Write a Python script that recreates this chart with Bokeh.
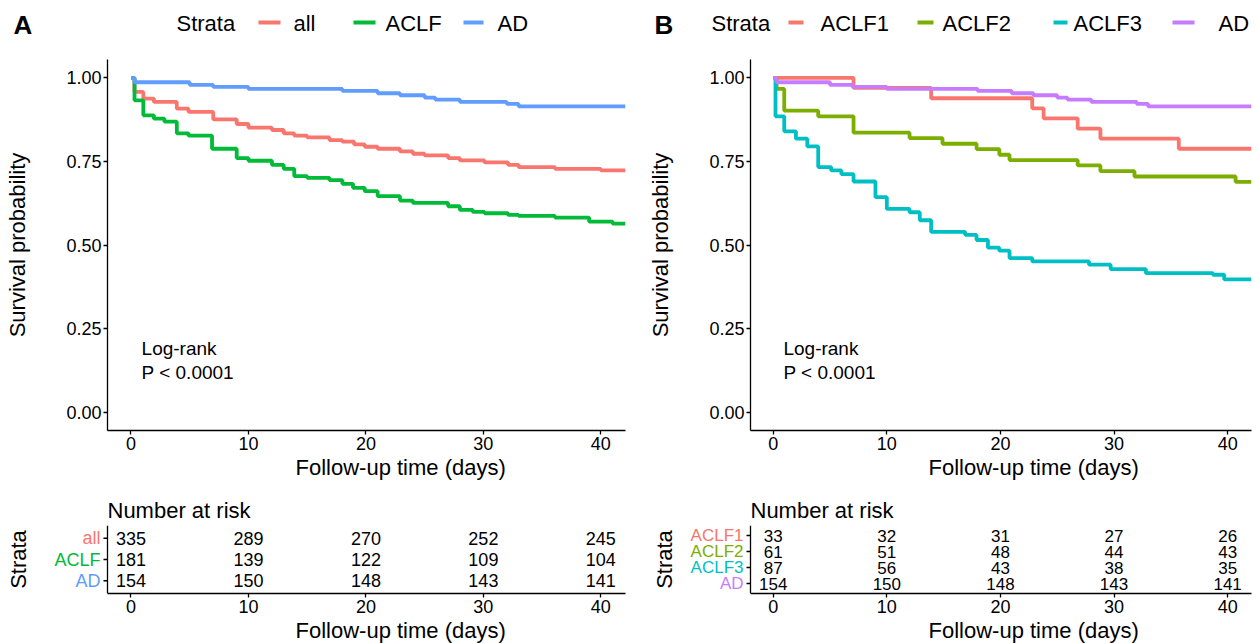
from bokeh.plotting import figure
from bokeh.models import Range1d, FixedTicker, Label, NumeralTickFormatter, Span, Title
from bokeh.layouts import row, column
from bokeh.embed import file_html
from bokeh.resources import INLINE
from bokeh.core.properties import value

FONT = "Liberation Sans"

# ---------------- data ----------------
strata_a = ["all", "ACLF", "AD"]
colors_a = ["#F8766D", "#00BA38", "#619CFF"]
strata_b = ["ACLF1", "ACLF2", "ACLF3", "AD"]
colors_b = ["#F8766D", "#7CAE00", "#00BFC4", "#C77CFF"]

all_time = [0, 0.3, 1.05, 1.95, 3.9, 4.9, 7.0, 9.0, 10.0, 12.0, 13.0, 13.9, 15.0, 16.9, 18.0, 19.0,
            19.9, 21.0, 22.9, 24.0, 25.0, 27.0, 28.0, 30.1, 32.1, 33.0, 36.1, 40.0, 42.1]
all_surv = [1.0, 0.958, 0.938, 0.928, 0.908, 0.898, 0.876, 0.862, 0.851, 0.844, 0.834, 0.827, 0.822,
            0.814, 0.809, 0.801, 0.794, 0.788, 0.780, 0.773, 0.768, 0.760, 0.753, 0.747, 0.740,
            0.733, 0.728, 0.723, 0.723]

aclf_time = [0, 0.3, 1.05, 1.95, 2.85, 3.9, 4.9, 6.9, 9.0, 10.0, 12.0, 13.0, 13.9, 15.0, 16.9, 18.0,
             18.9, 19.9, 21.0, 22.9, 24.0, 27.0, 28.0, 29.1, 30.1, 32.1, 33.0, 36.1, 39.0, 41.0, 42.1]
aclf_surv = [1.0, 0.933, 0.888, 0.878, 0.869, 0.834, 0.827, 0.788, 0.760, 0.752, 0.740, 0.728, 0.706,
             0.701, 0.694, 0.683, 0.671, 0.661, 0.646, 0.633, 0.626, 0.616, 0.605, 0.599, 0.595,
             0.590, 0.587, 0.582, 0.570, 0.564, 0.564]

ad_time = [0, 0.3, 5.0, 7.0, 10.0, 18.0, 21.0, 22.9, 25.0, 25.9, 28.0, 32.0, 33.0, 42.1]
ad_surv = [1.0, 0.987, 0.979, 0.973, 0.967, 0.961, 0.954, 0.948, 0.941, 0.935, 0.928, 0.922, 0.915, 0.915]

aclf1_time = [0, 7.07, 13.9, 22.8, 23.8, 26.8, 28.8, 35.7, 42.1]
aclf1_surv = [1.0, 0.970, 0.939, 0.909, 0.879, 0.848, 0.818, 0.788, 0.788]

aclf2_time = [0, 0.3, 0.97, 3.96, 7.07, 12.0, 14.9, 17.9, 19.9, 20.8, 26.8, 28.8, 31.8, 40.7, 42.1]
aclf2_surv = [1.0, 0.967, 0.902, 0.885, 0.836, 0.820, 0.803, 0.787, 0.770, 0.754, 0.738, 0.721,
              0.705, 0.689, 0.689]

aclf3_time = [0, 0.2, 0.97, 2.0, 3.0, 3.96, 5.1, 6.0, 7.07, 9.0, 10.0, 12.0, 12.9, 13.9, 16.9, 17.9,
              18.9, 19.9, 20.8, 22.8, 27.8, 29.7, 32.8, 38.7, 39.7, 42.1]
aclf3_surv = [1.0, 0.885, 0.840, 0.818, 0.795, 0.733, 0.723, 0.712, 0.690, 0.643, 0.608, 0.598, 0.574,
              0.539, 0.530, 0.515, 0.492, 0.483, 0.461, 0.451, 0.441, 0.428, 0.416, 0.411, 0.397, 0.397]

risk_times = [0, 10, 20, 30, 40]
risk_all = [335, 289, 270, 252, 245]
risk_aclf = [181, 139, 122, 109, 104]
risk_ad = [154, 150, 148, 143, 141]
risk_aclf1 = [33, 32, 31, 27, 26]
risk_aclf2 = [61, 51, 48, 44, 43]
risk_aclf3 = [87, 56, 43, 38, 35]

x_ticks = [0, 10, 20, 30, 40]
y_ticks = [0.0, 0.25, 0.50, 0.75, 1.00]
x_title = "Follow-up time (days)"
y_title = "Survival probability"
logrank_text = ["Log-rank", "P < 0.0001"]

# ---------------- layout constants ----------------
X_RANGE = (-2.0, 42.1)
Y_RANGE = (-0.055, 1.055)


def style_axis(ax, tick_size="18px"):
    ax.axis_line_color = "black"
    ax.axis_line_width = 1.3
    ax.major_tick_line_color = "black"
    ax.major_tick_line_width = 1.3
    ax.major_tick_out = 4
    ax.major_tick_in = 0
    ax.minor_tick_line_color = None
    ax.major_label_text_font = FONT
    ax.major_label_text_font_size = tick_size
    ax.major_label_text_color = "black"
    ax.major_label_standoff = 2
    ax.axis_label_text_font = FONT
    ax.axis_label_text_font_size = "22px"
    ax.axis_label_text_font_style = "normal"
    ax.axis_label_text_color = "black"


def add_x_title(p, offset):
    t = Title(text=x_title, align="left", offset=offset, standoff=0, text_font=FONT,
              text_font_size="22px", text_font_style="normal", text_color="black")
    p.add_layout(t, "below")


def km_fig(width, left, right, curves, colors, title_offset):
    p = figure(width=width, height=432, x_range=Range1d(*X_RANGE), y_range=Range1d(*Y_RANGE),
               output_backend="svg", toolbar_location=None,
               min_border_left=left, min_border_right=right, min_border_top=9, min_border_bottom=52)
    p.outline_line_color = None
    p.grid.visible = False
    for (t, s), c in zip(curves, colors):
        p.step(t, s, mode="after", line_color=c, line_width=3.8)
    p.xaxis.ticker = FixedTicker(ticks=x_ticks)
    p.yaxis.ticker = FixedTicker(ticks=y_ticks)
    p.yaxis.formatter = NumeralTickFormatter(format="0.00")
    p.yaxis.axis_label = y_title
    style_axis(p.xaxis[0])
    style_axis(p.yaxis[0])
    p.yaxis.axis_label_standoff = 33
    add_x_title(p, title_offset)
    p.add_layout(Label(x=0.9, y=0.19, text=logrank_text[0], text_font=FONT, text_font_size="19px",
                       text_baseline="middle", text_color="black"))
    p.add_layout(Label(x=0.9, y=0.12, text=logrank_text[1], text_font=FONT, text_font_size="19px",
                       text_baseline="middle", text_color="black"))
    return p


def risk_fig(width, km_left, left, right, names, colors, counts, ypad, font_size, label_standoff,
             title_offset):
    n = len(names)
    ppd = (width - km_left - right) / (X_RANGE[1] - X_RANGE[0])   # pixels per day (same as KM panel)
    x0 = X_RANGE[0] - (km_left - left) / ppd                      # frame extended leftwards for labels
    p = figure(width=width, height=161, x_range=Range1d(x0, X_RANGE[1]), y_range=Range1d(1 - ypad, n + ypad),
               output_backend="svg", toolbar_location=None, title="Number at risk",
               min_border_left=left, min_border_right=right, min_border_top=43, min_border_bottom=50)
    p.outline_line_color = None
    p.grid.visible = False
    p.title.text_font = FONT
    p.title.text_font_size = "22px"
    p.title.text_font_style = "normal"
    p.title.text_color = "black"
    p.title.align = "left"
    p.title.standoff = 6
    p.title.offset = km_left - left
    xs, ys, txt = [], [], []
    for i, cnt in enumerate(counts):
        for t, v in zip(risk_times, cnt):
            xs.append(t)
            ys.append(n - i)
            txt.append(str(v))
    p.text(x=xs, y=ys, text=txt, text_align="center", text_baseline="middle",
           text_font=value(FONT), text_font_size=font_size, text_color="black")
    rows = [n - i for i in range(n)]
    # coloured strata labels, left of the table's axis line
    p.text(x=[X_RANGE[0] - 7 / ppd] * n, y=rows, text=names, text_color=colors, text_align="right",
           text_baseline="middle", text_font=value(FONT), text_font_size=font_size)
    # left axis line + ticks at X_RANGE[0]
    p.add_layout(Span(location=X_RANGE[0], dimension="height", line_color="black", line_width=1.3))
    p.segment(x0=[X_RANGE[0] - 4 / ppd] * n, y0=rows, x1=[X_RANGE[0]] * n, y1=rows,
              line_color="black", line_width=1.3)
    p.xaxis.ticker = FixedTicker(ticks=x_ticks)
    p.xaxis.bounds = X_RANGE
    style_axis(p.xaxis[0])
    add_x_title(p, title_offset + km_left - left)
    ya = p.yaxis[0]
    ya.ticker = FixedTicker(ticks=[])
    ya.axis_line_color = None
    ya.major_tick_line_color = None
    ya.minor_tick_line_color = None
    ya.major_tick_out = 0
    ya.major_label_standoff = 0
    ya.major_label_text_font_size = "0px"
    ya.axis_label = "Strata"
    ya.axis_label_text_font = FONT
    ya.axis_label_text_font_size = "22px"
    ya.axis_label_text_font_style = "normal"
    ya.axis_label_text_color = "black"
    ya.axis_label_standoff = label_standoff
    return p


# ---------------- header (panel letters + legends) ----------------
hdr = figure(width=1258, height=50, x_range=Range1d(0, 1258), y_range=Range1d(50, 0),
             x_axis_type=None, y_axis_type=None, output_backend="svg", toolbar_location=None,
             min_border=0)
hdr.outline_line_color = None
hdr.text(x=[13, 654], y=[24, 24], text=["A", "B"], text_font=value(FONT), text_font_size="26px",
         text_font_style="bold", text_baseline="middle", text_color="black")
hdr.text(x=[176, 711], y=[23, 23], text=["Strata", "Strata"], text_font=value(FONT),
         text_font_size="22px", text_baseline="middle", text_color="black")
sw_x0 = [258, 353, 463, 788, 917, 1053, 1172]
sw_x1 = [280, 375, 483, 803, 933, 1067, 1194]
lab_x = [293, 385, 497, 820, 942, 1073, 1218]
hdr.segment(x0=sw_x0, y0=[22] * 7, x1=sw_x1, y1=[22] * 7, line_color=colors_a + colors_b, line_width=4)
hdr.text(x=lab_x, y=[23] * 7, text=strata_a + strata_b, text_font=value(FONT), text_font_size="22px",
         text_baseline="middle", text_color="black")

# ---------------- panels ----------------
kmA = km_fig(640, 107, 15, [(all_time, all_surv), (aclf_time, aclf_surv), (ad_time, ad_surv)], colors_a, 188)
kmB = km_fig(618, 110, 7, [(aclf1_time, aclf1_surv), (aclf2_time, aclf2_surv),
                           (aclf3_time, aclf3_surv), (ad_time, ad_surv)], colors_b, 178)
tabA = risk_fig(640, 107, 40, 15, strata_a, colors_a, [risk_all, risk_aclf, risk_ad], 0.6, "18px", 10, 188)
tabB = risk_fig(618, 110, 40, 7, strata_b, colors_b, [risk_aclf1, risk_aclf2, risk_aclf3, risk_ad], 0.625,
                "17px", 4, 178)

layout = column(hdr, row(kmA, kmB), row(tabA, tabB))

open("out.html", "w").write(file_html(layout, INLINE))
